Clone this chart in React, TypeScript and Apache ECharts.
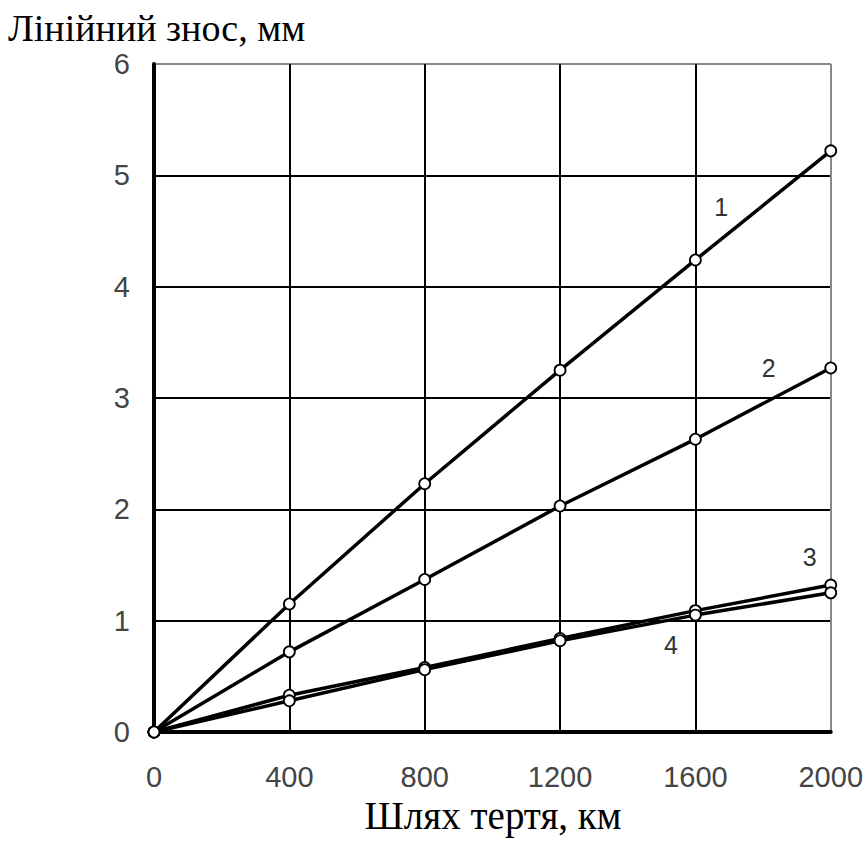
import React, { useEffect, useRef } from "react";
import * as echarts from "echarts";

const xValues = [0, 400, 800, 1200, 1600, 2000];
const series1 = [0, 1.15, 2.23, 3.25, 4.24, 5.22];
const series2 = [0, 0.72, 1.37, 2.03, 2.63, 3.27];
const series3 = [0, 0.33, 0.58, 0.84, 1.09, 1.32];
const series4 = [0, 0.28, 0.56, 0.82, 1.05, 1.25];
const seriesNames = ["1", "2", "3", "4"];
const labelCoords: [number, number][] = [
  [1676, 4.72],
  [1817, 3.27],
  [1938, 1.57],
  [1528, 0.78],
];
const yTitle = "Лінійний знос, мм";
const xTitle = "Шлях тертя, км";

export default function App() {
  const ref = useRef<HTMLDivElement>(null);
  useEffect(() => {
    if (!ref.current) return;
    const chart = echarts.init(ref.current, null, { renderer: "svg" });
    const all = [series1, series2, series3, series4];
    const series = all.map((vals, i) => ({
      type: "line",
      name: seriesNames[i],
      data: xValues.map((x, j) => [x, vals[j]]),
      symbol: "circle",
      symbolSize: 11,
      showSymbol: true,
      lineStyle: { color: "#000", width: 3.5 },
      itemStyle: { color: "#fff", borderColor: "#000", borderWidth: 1.8 },
      z: 3,
      markPoint: {
        symbol: "circle",
        symbolSize: 0,
        silent: true,
        data: [{ coord: labelCoords[i], value: seriesNames[i] }],
        label: {
          show: true,
          position: "inside",
          formatter: seriesNames[i],
          color: "#333",
          fontSize: 25,
          fontFamily: "Liberation Sans, Arial, sans-serif",
        },
      },
    }));
    const splitColorsY = ["#000", "#000", "#000", "#000", "#000", "#000", "#888"];
    const splitColorsX = ["#000", "#000", "#000", "#000", "#000", "#888"];
    chart.setOption({
      animation: false,
      backgroundColor: "#fff",
      grid: { left: 154, top: 64, width: 678, height: 668, containLabel: false },
      xAxis: {
        type: "value",
        min: 0,
        max: 2000,
        interval: 400,
        axisLine: { show: true, onZero: false, lineStyle: { color: "#000", width: 4 } },
        axisTick: { show: false },
        splitLine: { show: true, lineStyle: { color: splitColorsX, width: 2 } },
        axisLabel: {
          margin: 30,
          fontSize: 29,
          color: "#444",
          fontFamily: "Liberation Sans, Arial, sans-serif",
          showMaxLabel: true,
          formatter: (v: number) => String(v),
        },
      },
      yAxis: {
        type: "value",
        min: 0,
        max: 6,
        interval: 1,
        axisLine: { show: true, onZero: false, lineStyle: { color: "#000", width: 4 } },
        axisTick: { show: false },
        splitLine: { show: true, lineStyle: { color: splitColorsY, width: 2 } },
        axisLabel: {
          margin: 24,
          fontSize: 29,
          color: "#444",
          fontFamily: "Liberation Sans, Arial, sans-serif",
          formatter: (v: number) => String(v),
        },
      },
      graphic: [
        {
          type: "text",
          x: 8,
          y: 9,
          style: {
            text: yTitle,
            fontSize: 38,
            fill: "#000",
            fontFamily: "Liberation Serif, Times New Roman, serif",
          },
        },
        {
          type: "text",
          x: 493,
          y: 796,
          style: {
            text: xTitle,
            textAlign: "center",
            fontSize: 39,
            fill: "#000",
            fontFamily: "Liberation Serif, Times New Roman, serif",
          },
        },
      ],
      series,
    });
    return () => chart.dispose();
  }, []);
  return (
    <div
      ref={ref}
      style={{ position: "fixed", left: 0, top: 0, width: 866, height: 843, background: "#fff" }}
    />
  );
}
